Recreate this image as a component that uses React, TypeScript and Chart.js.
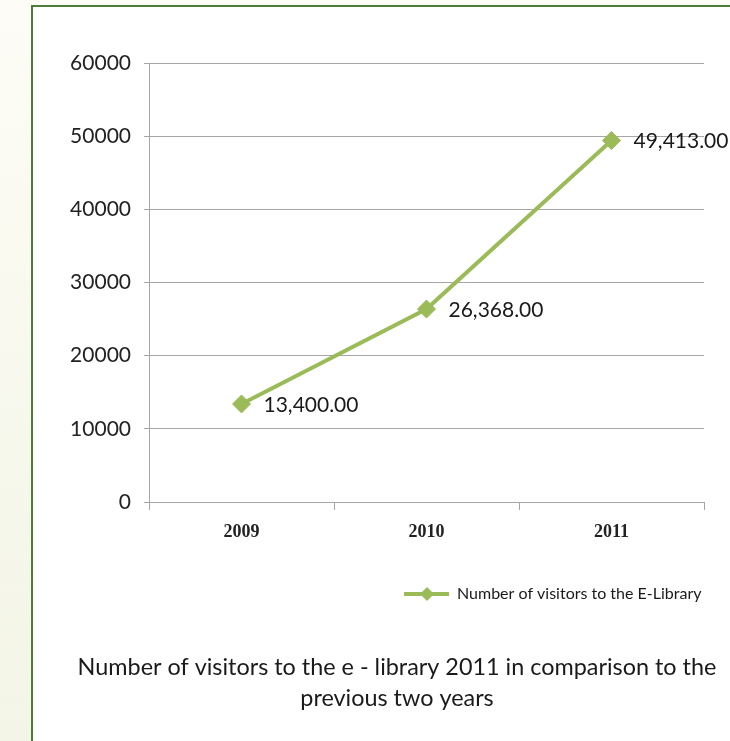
import React, { useEffect, useRef } from "react";
import { Chart, registerables } from "chart.js";

Chart.register(...registerables);

const categories = ["2009", "2010", "2011"];
const visitors = [13400, 26368, 49413];
const valueLabels = ["13,400.00", "26,368.00", "49,413.00"];
const seriesName = "Number of visitors to the E-Library";
const titleLines = [
  "Number of visitors to the e - library 2011 in comparison to the",
  "previous two years",
];
const yMin = 0;
const yMax = 60000;
const yStep = 10000;

const GREEN = "#9bbb59";
const GRID = "#a6a6a6";
const SANS = "Lato, 'Open Sans', sans-serif";

const overlayPlugin = {
  id: "overlay",
  afterDraw(chart: any) {
    const ctx = chart.ctx;
    const meta = chart.getDatasetMeta(0);
    ctx.save();
    // value labels
    ctx.fillStyle = "#1a1a1a";
    ctx.font = `21px ${SANS}`;
    ctx.textAlign = "left";
    ctx.textBaseline = "middle";
    meta.data.forEach((pt: any, i: number) => {
      ctx.fillText(valueLabels[i], pt.x + 22, pt.y + 1);
    });
    // legend
    const ly = 594;
    ctx.strokeStyle = GREEN;
    ctx.lineWidth = 4;
    ctx.beginPath();
    ctx.moveTo(404, ly);
    ctx.lineTo(449, ly);
    ctx.stroke();
    ctx.fillStyle = GREEN;
    ctx.beginPath();
    ctx.moveTo(427, ly - 7);
    ctx.lineTo(434, ly);
    ctx.lineTo(427, ly + 7);
    ctx.lineTo(420, ly);
    ctx.closePath();
    ctx.fill();
    ctx.fillStyle = "#1a1a1a";
    ctx.font = `16px ${SANS}`;
    ctx.textBaseline = "middle";
    ctx.fillText(seriesName, 457, ly);
    // title
    ctx.font = `23.4px ${SANS}`;
    ctx.textAlign = "center";
    ctx.fillText(titleLines[0], 397, 667);
    ctx.fillText(titleLines[1], 397, 698);
    ctx.restore();
  },
};

export default function App() {
  const ref = useRef<HTMLCanvasElement>(null);
  useEffect(() => {
    if (!ref.current) return;
    const chart = new Chart(ref.current, {
      type: "line",
      data: {
        labels: categories,
        datasets: [
          {
            label: seriesName,
            data: visitors,
            borderColor: GREEN,
            backgroundColor: GREEN,
            borderWidth: 4,
            pointStyle: "rectRot",
            pointRadius: 9,
            pointBackgroundColor: GREEN,
            pointBorderColor: GREEN,
            pointBorderWidth: 1,
            tension: 0,
          },
        ],
      },
      options: {
        animation: false,
        responsive: false,
        devicePixelRatio: 1,
        layout: { padding: { left: 0, right: 26, top: 63, bottom: 0 } },
        plugins: {
          legend: { display: false },
          tooltip: { enabled: false },
          title: { display: false },
        },
        scales: {
          x: {
            type: "category",
            offset: true,
            grid: {
              offset: true,
              drawOnChartArea: false,
              drawTicks: true,
              tickLength: 8,
              color: GRID,
            },
            border: { display: true, color: GRID },
            ticks: {
              font: { family: "'Liberation Serif', serif", weight: "bold", size: 18 },
              color: "#222",
              padding: 12,
            },
            afterFit: (s: any) => {
              s.height = 239;
            },
          },
          y: {
            min: yMin,
            max: yMax,
            ticks: {
              stepSize: yStep,
              callback: (v: any) => String(v),
              font: { family: SANS, size: 21 },
              color: "#222",
              padding: 13,
            },
            grid: { color: GRID, tickLength: 5 },
            border: { display: true, color: GRID },
            afterFit: (s: any) => {
              s.width = 149;
            },
          },
        },
      },
      plugins: [overlayPlugin],
    });
    return () => chart.destroy();
  }, []);

  return (
    <div
      style={{
        position: "absolute",
        left: 0,
        top: 0,
        width: 730,
        height: 741,
        overflow: "hidden",
        background: "linear-gradient(180deg, #fdfcf6 0%, #f3f5e6 100%)",
      }}
    >
      <div
        style={{
          position: "absolute",
          left: 31,
          top: 5,
          width: 740,
          height: 760,
          border: "2px solid #4e7d3a",
          background: "#ffffff",
        }}
      />
      <canvas
        ref={ref}
        width={730}
        height={741}
        style={{ position: "absolute", left: 0, top: 0, width: 730, height: 741 }}
      />
    </div>
  );
}
